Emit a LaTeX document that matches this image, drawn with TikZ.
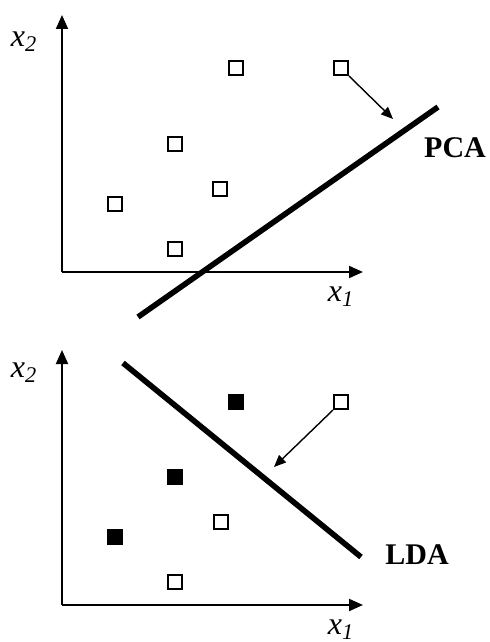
\documentclass[tikz,border=0pt]{standalone}
\usepackage{fontspec}
\setmainfont{Liberation Serif}
\usetikzlibrary{arrows.meta}

\tikzset{
  axis/.style={line width=1pt,-{Triangle[length=7pt,width=6pt]}},
  smp/.style={draw,line width=1pt,minimum size=7pt,inner sep=0pt},
  smpfill/.style={smp,fill=black},
  proj/.style={line width=2.8pt},
  move/.style={line width=0.7pt,-{Triangle[length=6pt,width=5pt]}},
  axlab/.style={font=\fontsize{16}{19}\selectfont\itshape},
  method/.style={font=\fontsize{15}{18}\selectfont\bfseries}
}

\begin{document}
\begin{tikzpicture}[x=0.5pt,y=-0.5pt]
  \useasboundingbox (0,0) rectangle (490,642);

  % Upper panel: PCA
  \coordinate (o1) at (62,272);
  \coordinate (y1) at (62,15);
  \coordinate (x1) at (363,272);
  \draw[axis] (o1) -- (y1);
  \draw[axis] (o1) -- (x1);
  \node[axlab] (x2a) at (24,42) {x\textsubscript{2}};
  \node[axlab] (x1a) at (341,297) {x\textsubscript{1}};

  \foreach \n/\x/\y in {a/236/68,b/175/144,c/220/189,d/115/204,e/175/249,f/341/68}
    \node[smp] (u\n) at (\x,\y) {};

  \coordinate (pcaS) at (138,317);
  \coordinate (pcaE) at (438,107);
  \draw[proj] (pcaS) -- (pcaE);
  \coordinate (pcaHit) at (393,119);
  \draw[move] (uf.south east) -- (pcaHit);
  \node[method] (pca) at (455,148) {PCA};

  % Lower panel: LDA
  \coordinate (o2) at (62,605);
  \coordinate (y2) at (62,350);
  \coordinate (x2) at (363,605);
  \draw[axis] (o2) -- (y2);
  \draw[axis] (o2) -- (x2);
  \node[axlab] (x2b) at (24,373) {x\textsubscript{2}};
  \node[axlab] (x1b) at (341,630) {x\textsubscript{1}};

  \foreach \n/\x/\y in {a/236/402,b/175/477,c/115/537}
    \node[smpfill] (f\n) at (\x,\y) {};
  \foreach \n/\x/\y in {a/221/522,b/175/582,c/341/402}
    \node[smp] (l\n) at (\x,\y) {};

  \coordinate (ldaS) at (123,363);
  \coordinate (ldaE) at (361,557);
  \draw[proj] (ldaS) -- (ldaE);
  \coordinate (ldaHit) at (274,467);
  \draw[move] (lc.south west) -- (ldaHit);
  \node[method] (lda) at (417,555) {LDA};
\end{tikzpicture}
\end{document}
